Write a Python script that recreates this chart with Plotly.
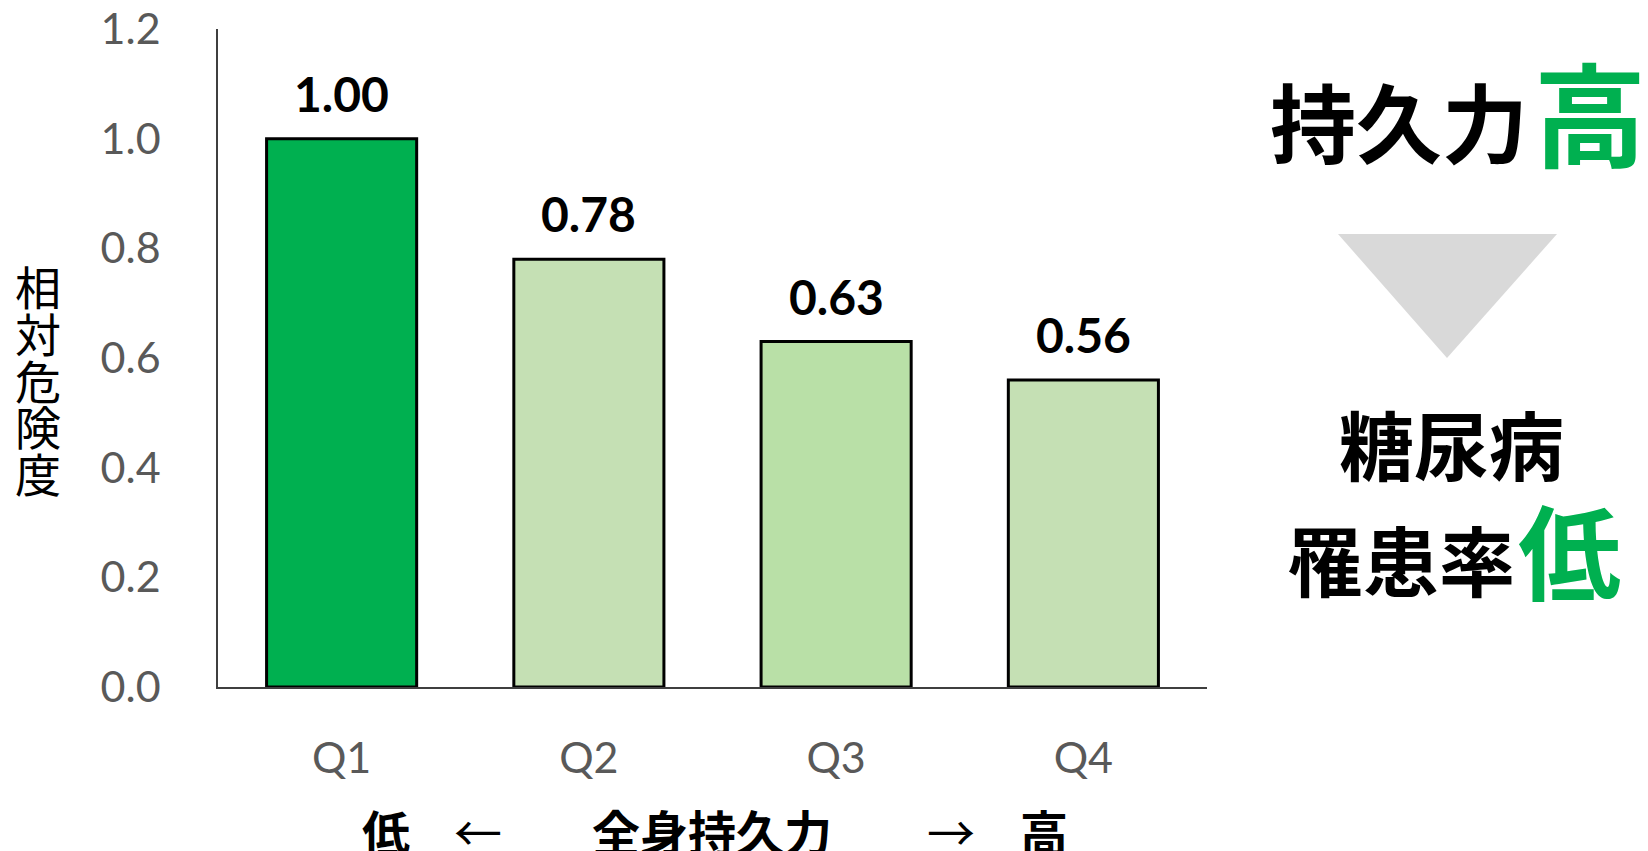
import plotly.graph_objects as go

# Relative risk of diabetes by cardiorespiratory-fitness quartile
quartiles = ["Q1", "Q2", "Q3", "Q4"]
relative_risk = [1.00, 0.78, 0.63, 0.56]
bar_colors = ["#00B050", "#C5E0B4", "#B9E0A7", "#C5E0B4"]
y_ticks = [0.0, 0.2, 0.4, 0.6, 0.8, 1.0, 1.2]
y_title_chars = ["相", "対", "危", "険", "度"]

W, H = 1648, 851
L, R, T, B = 218, 441, 29, 164
PW, PH = W - L - R, H - T - B

LATIN = "Lato, 'Noto Sans CJK JP', sans-serif"
CJK = "'Noto Sans CJK JP', sans-serif"


def px(x):
    return (x - L) / PW


def py(y):
    return (H - B - y) / PH


fig = go.Figure(
    go.Bar(
        x=quartiles,
        y=relative_risk,
        marker=dict(color=bar_colors, line=dict(color="#000000", width=3)),
        width=0.607,
        hoverinfo="skip",
    )
)

annotations = []

# value labels above each bar
for q, v in zip(quartiles, relative_risk):
    annotations.append(dict(
        x=q, y=v, xref="x", yref="y", text=f"{v:.2f}", showarrow=False,
        yanchor="bottom", yshift=15,
        font=dict(family=LATIN, size=48, color="#000000", weight="bold"),
    ))

# vertical y-axis title, one character per line
for i, ch in enumerate(y_title_chars):
    annotations.append(dict(
        x=px(38), y=py(285 + i * 46.75), xref="paper", yref="paper", text=ch,
        showarrow=False, xanchor="center", yanchor="middle",
        font=dict(family=CJK, size=46, color="#000000"),
    ))

# axis caption below the quartile labels
caption = [
    ("低", 386, True), ("←", 478, False), ("全身持久力", 712, True),
    ("→", 951, False), ("高", 1044, True),
]
for txt, cx, bold in caption:
    annotations.append(dict(
        x=px(cx), y=py(830), xref="paper", yref="paper", text=txt,
        showarrow=False, xanchor="center", yanchor="middle",
        font=dict(family=CJK, size=48, color="#000000",
                  weight="bold" if bold else "normal"),
    ))

# message panel on the right: (text, x, ink bottom, size, colour, anchor)
panel = [
    ("持久力", 1530, 162, 86, "#000000", "right"),
    ("高", 1532, 164, 112, "#00B050", "left"),
    ("糖尿病", 1451, 480, 75, "#000000", "center"),
    ("罹患率", 1517, 596, 76, "#000000", "right"),
    ("低", 1516, 599, 103, "#00B050", "left"),
]
for txt, x, base, size, color, anchor in panel:
    annotations.append(dict(
        x=px(x), y=py(base + 0.255 * size), xref="paper", yref="paper",
        text=txt, showarrow=False, xanchor=anchor, yanchor="bottom",
        font=dict(family=CJK, size=size, color=color, weight="bold"),
    ))

shapes = [dict(
    type="path", xref="paper", yref="paper",
    path=(f"M {px(1338)} {py(234)} L {px(1557)} {py(234)} "
          f"L {px(1447)} {py(358)} Z"),
    fillcolor="#D9D9D9", line=dict(width=0),
)]

fig.update_layout(
    width=W, height=H,
    margin=dict(l=L, r=R, t=T, b=B, pad=0, autoexpand=False),
    paper_bgcolor="#FFFFFF", plot_bgcolor="#FFFFFF",
    showlegend=False,
    annotations=annotations,
    shapes=shapes,
    xaxis=dict(
        type="category", range=[-0.5, 3.5], automargin=False,
        showline=True, linecolor="#3F3F3F", linewidth=1.5,
        showgrid=False, ticks="", ticklabelstandoff=33,
        tickfont=dict(family=LATIN, size=43, color="#595959"),
        fixedrange=True,
    ),
    yaxis=dict(
        range=[0, 1.2], tickvals=y_ticks, tickformat=".1f", automargin=False,
        showline=True, linecolor="#3F3F3F", linewidth=1.5,
        showgrid=False, zeroline=False, ticks="", ticklabelstandoff=47,
        tickfont=dict(family=LATIN, size=43, color="#595959"),
        fixedrange=True,
    ),
)

fig.write_html("out.html", config={"displayModeBar": False})
